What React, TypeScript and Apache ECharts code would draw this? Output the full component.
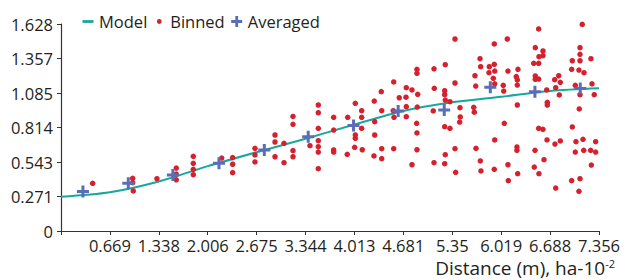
import React, { useEffect, useRef } from "react";
import * as echarts from "echarts";

const xTickLabels = ["0", "0.669", "1.338", "2.006", "2.675", "3.344", "4.013", "4.681", "5.35", "6.019", "6.688", "7.356"];
const yTickLabels = ["0", "0.271", "0.543", "0.814", "1.085", "1.357", "1.628"];
const xMax = 7.356;
const yMax = 1.628;

const modelX = [0, 0.669, 1.338, 2.006, 2.675, 3.344, 4.013, 4.681, 5.35, 6.019, 6.688, 7.356];
const modelY = [0.27, 0.305, 0.39, 0.51, 0.62, 0.725, 0.838, 0.944, 1.012, 1.056, 1.101, 1.122];

const averagedX = [0.30, 0.92, 1.53, 2.16, 2.78, 3.38, 4.0, 4.61, 5.24, 5.87, 6.48, 7.10];
const averagedY = [0.31, 0.375, 0.44, 0.533, 0.637, 0.742, 0.83, 0.944, 0.952, 1.13, 1.096, 1.12];

const binnedX = [
  0.433, 0.98, 0.98, 0.988, 1.312, 1.576, 1.576, 1.576, 1.809, 1.809, 1.809, 1.809, 2.197, 2.347, 2.347, 2.347,
  2.652, 2.652, 2.652, 2.926, 2.926, 2.926, 3.049, 3.049, 3.172, 3.172, 3.172, 3.172, 3.404, 3.518, 3.518, 3.518,
  3.518, 3.518, 3.518, 3.518, 3.728, 3.728, 3.728, 3.728,
  3.92, 4.024, 4.111, 4.111, 4.283, 4.289, 4.379, 4.385, 4.549, 4.553, 4.543, 4.625, 4.721, 4.717, 4.721, 4.721,
  4.799, 4.867, 4.867, 4.877, 4.871, 4.863, 5.1, 5.104, 5.09, 5.254, 5.246, 5.246, 5.254, 5.318, 5.387, 5.387,
  5.455, 5.459, 5.451, 5.66, 5.67, 5.643, 5.651,
  4.024, 4.024, 4.111, 4.289, 4.015, 3.914, 4.119, 4.279, 4.385, 4.385, 4.549, 4.867, 4.867, 4.799, 5.246, 5.318,
  5.254, 5.246, 5.1, 5.387, 5.396,
  5.924, 6.102, 6.531, 7.127, 5.729, 5.738, 5.856, 5.924, 5.852, 5.93, 5.911, 5.93, 6.047, 6.053, 6.111, 6.248,
  6.225, 6.239, 6.239, 6.485, 6.59, 6.59, 6.535, 6.463, 6.531, 6.485, 6.485, 6.531, 6.641, 6.649, 6.649, 6.239,
  6.805, 6.75, 6.827, 6.764, 6.813, 7.096, 7.096, 6.991, 7.096, 7.246, 6.982, 7.082, 7.151, 7.26, 7.032, 7.096,
  7.291, 7.086,
  6.061, 6.531, 6.59, 6.991, 5.93, 5.674, 6.234, 6.234, 6.481, 6.645, 6.754, 6.827, 7.041, 7.137, 7.31, 7.032,
  7.147, 7.242, 7.31, 5.733, 5.742, 5.924, 6.111, 6.116, 6.244, 6.471, 6.535, 6.604, 6.764, 6.982, 7.096, 7.082,
  7.251,
];
const binnedY = [
  0.375, 0.414, 0.38, 0.315, 0.411, 0.495, 0.448, 0.403, 0.587, 0.532, 0.485, 0.443, 0.574, 0.578, 0.525, 0.459,
  0.65, 0.598, 0.543, 0.755, 0.7, 0.584, 0.69, 0.537, 0.901, 0.839, 0.632, 0.584, 0.671, 0.991, 0.93, 0.808,
  0.71, 0.663, 0.621, 0.49, 0.894, 0.794, 0.637, 0.621,
  0.894, 1.004, 0.946, 0.894, 1.022, 0.86, 1.096, 0.946, 1.172, 0.894, 0.946, 1.048, 1.127, 1.052, 0.978, 0.899,
  1.109, 1.272, 1.24, 1.075, 0.975, 0.847, 1.276, 1.122, 0.944, 1.308, 1.103, 1.072, 1.03, 1.017, 1.51, 1.164,
  0.97, 0.897, 0.857, 1.221, 1.14, 0.973, 0.934,
  0.755, 0.729, 0.808, 0.755, 0.658, 0.603, 0.639, 0.59, 0.647, 0.569, 0.647, 0.771, 0.639, 0.521, 0.82, 0.808,
  0.6, 0.529, 0.537, 0.647, 0.462,
  1.471, 1.51, 1.589, 1.625, 1.355, 1.292, 1.292, 1.311, 1.245, 1.258, 1.201, 1.158, 1.146, 1.101, 1.258, 1.272,
  1.214, 1.188, 1.148, 1.442, 1.416, 1.379, 1.371, 1.319, 1.319, 1.219, 1.193, 1.195, 1.109, 1.012, 0.991, 0.991,
  1.221, 1.19, 1.169, 1.127, 1.07, 1.442, 1.39, 1.339, 1.339, 1.355, 1.272, 1.266, 1.245, 1.158, 1.146, 1.072,
  1.072, 0.96,
  0.847, 0.808, 0.8, 0.818, 0.716, 0.65, 0.661, 0.635, 0.635, 0.716, 0.684, 0.708, 0.702, 0.721, 0.702, 0.621,
  0.635, 0.635, 0.621, 0.551, 0.472, 0.485, 0.521, 0.396, 0.451, 0.503, 0.451, 0.561, 0.338, 0.396, 0.411, 0.312,
  0.519,
];

const TEAL = "#16a89c";
const RED = "#d5202e";
const BLUE = "#5a6db8";
const TEXT = "#231f20";
const FONT = "'Open Sans', sans-serif";

const PLUS = "path://M4.5,0 L7.5,0 L7.5,4.5 L12,4.5 L12,7.5 L7.5,7.5 L7.5,12 L4.5,12 L4.5,7.5 L0,7.5 L0,4.5 L4.5,4.5 Z";
const ICON_LINE = "path://M0,0 M0.5,4.6 L11.5,4.6 L11.5,7.4 L0.5,7.4 Z M12,12";
const ICON_DOT = "path://M0,0 M8.4,6 A2.4,2.4 0 1 1 3.6,6 A2.4,2.4 0 1 1 8.4,6 Z M12,12";
const ICON_PLUS = "path://M0,0 M4.6,0.5 L7.4,0.5 L7.4,4.6 L11.5,4.6 L11.5,7.4 L7.4,7.4 L7.4,11.5 L4.6,11.5 L4.6,7.4 L0.5,7.4 L0.5,4.6 L4.6,4.6 Z M12,12";

export default function App() {
  const ref = useRef<HTMLDivElement>(null);
  useEffect(() => {
    if (!ref.current) return;
    const chart = echarts.init(ref.current, null, { renderer: "svg" });
    const xInterval = xMax / (xTickLabels.length - 1);
    const yInterval = yMax / (yTickLabels.length - 1);
    const axisLine = { show: true, lineStyle: { color: "#333", width: 1.2 } };
    chart.setOption({
      animation: false,
      backgroundColor: "#fff",
      textStyle: { fontFamily: FONT },
      grid: { left: 61, right: 28, top: 24, bottom: 49, outerBoundsMode: "none" },
      legend: {
        left: 82,
        top: 13,
        padding: 0,
        itemGap: 6,
        itemWidth: 12,
        itemHeight: 12,
        symbolKeepAspect: true,
        textStyle: { fontSize: 16.5, color: TEXT, fontFamily: FONT },
        data: [
          { name: "Model", icon: ICON_LINE },
          { name: "Binned", icon: ICON_DOT },
          { name: "Averaged", icon: ICON_PLUS },
        ],
      },
      xAxis: {
        type: "value",
        min: 0,
        max: xMax,
        interval: xInterval,
        splitLine: { show: false },
        axisLine,
        axisTick: { show: true, length: 4, lineStyle: { color: "#333" } },
        axisLabel: {
          fontSize: 16.5,
          color: TEXT,
          fontFamily: FONT,
          margin: 6,
          formatter: (v: number) => {
            const i = Math.round(v / xInterval);
            return i === 0 ? "" : xTickLabels[i] ?? "";
          },
        },
      },
      yAxis: {
        type: "value",
        min: 0,
        max: yMax,
        interval: yInterval,
        splitLine: { show: false },
        axisLine,
        axisTick: { show: true, length: 4, lineStyle: { color: "#333" } },
        axisLabel: {
          fontSize: 16.5,
          color: TEXT,
          fontFamily: FONT,
          margin: 8,
          formatter: (v: number) => yTickLabels[Math.round(v / yInterval)] ?? "",
        },
      },
      graphic: [
        {
          type: "text",
          x: 615,
          y: 268,
          style: {
            text: "Distance (m), ha-10{sup|-2}",
            fontSize: 19,
            fontFamily: FONT,
            fill: TEXT,
            align: "right",
            verticalAlign: "middle",
            rich: {
              sup: { fontSize: 11, verticalAlign: "top", fill: TEXT, fontFamily: FONT, padding: [0, 0, 10, 0] },
            },
          },
        },
      ],
      series: [
        {
          name: "Model",
          type: "line",
          smooth: 0.3,
          showSymbol: false,
          color: TEAL,
          lineStyle: { color: TEAL, width: 2 },
          itemStyle: { color: TEAL },
          data: modelX.map((x, i) => [x, modelY[i]]),
          z: 2,
        },
        {
          name: "Binned",
          type: "scatter",
          symbol: "circle",
          symbolSize: 5.5,
          color: RED,
          itemStyle: { color: RED, opacity: 1 },
          data: binnedX.map((x, i) => [x, binnedY[i]]),
          z: 3,
        },
        {
          name: "Averaged",
          type: "scatter",
          symbol: PLUS,
          symbolSize: 12,
          color: BLUE,
          itemStyle: { color: BLUE, opacity: 1 },
          data: averagedX.map((x, i) => [x, averagedY[i]]),
          z: 4,
        },
      ],
    });
    return () => chart.dispose();
  }, []);
  return (
    <div
      ref={ref}
      style={{ position: "fixed", left: 0, top: 0, width: 627, height: 280, background: "#fff" }}
    />
  );
}
